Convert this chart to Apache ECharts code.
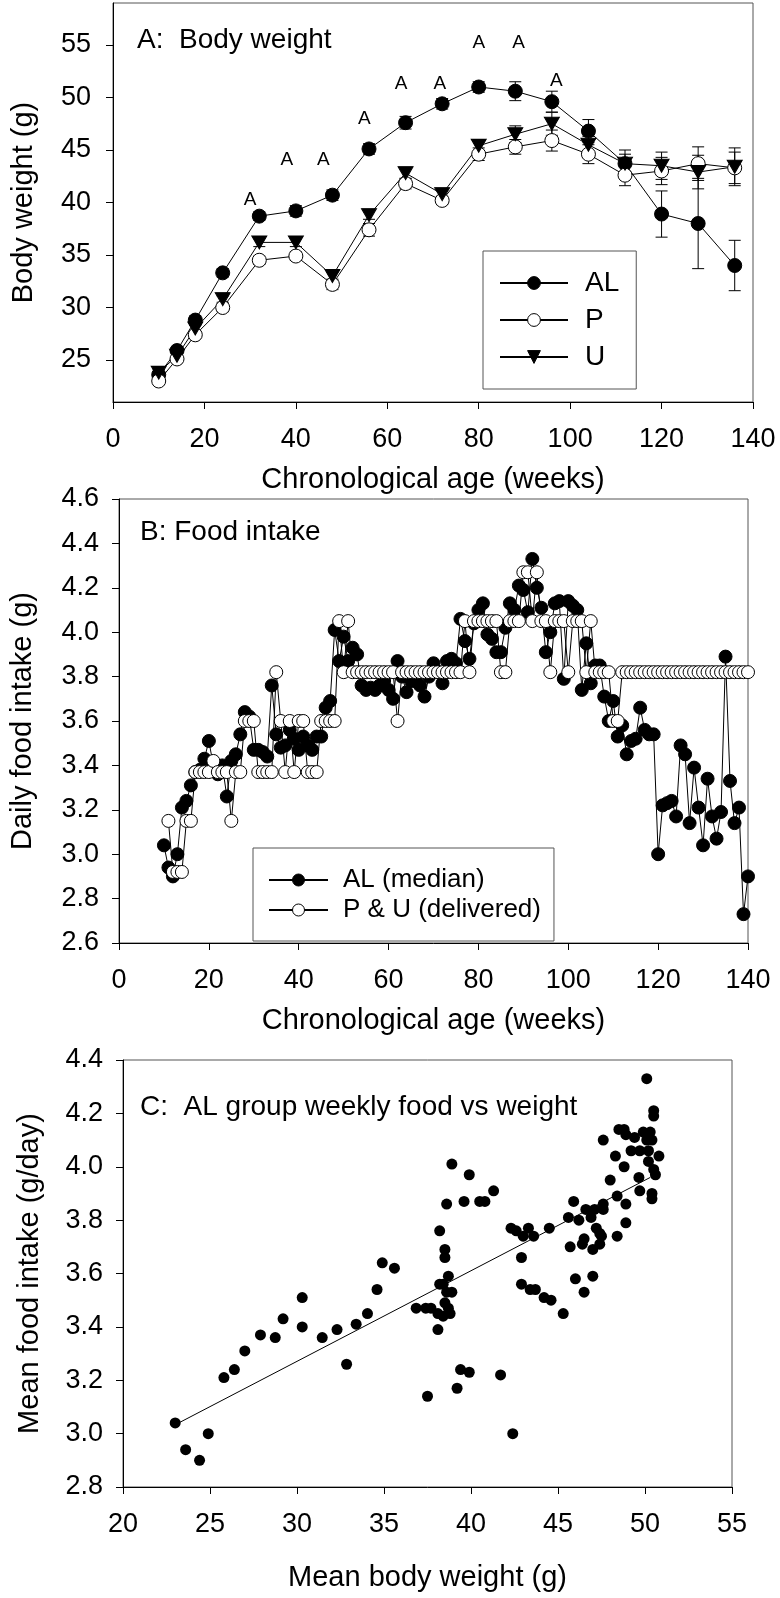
<!DOCTYPE html>
<html><head><meta charset="utf-8">
<script src="https://cdn.jsdelivr.net/npm/echarts@6/dist/echarts.min.js"></script>
<style>html,body{margin:0;padding:0;background:#fff}#c{width:780px;height:1598px}</style>
</head><body><div id="c"></div>
<script>
// ---------- Panel A: body weight ----------
const weeksA = [10,14,18,24,32,40,48,56,64,72,80,88,96,104,112,120,128,136];
const weightAL = [23.6,25.9,28.8,33.3,38.7,39.2,40.7,45.1,47.6,49.4,51.0,50.6,49.6,46.8,43.7,38.9,38.0,34.0];
const errAL    = [0.3,0.3,0.4,0.4,0.4,0.5,0.5,0.5,0.6,0.5,0.5,0.9,1.0,1.1,1.3,2.2,4.3,2.4];
const weightP  = [23.0,25.1,27.4,30.0,34.5,34.9,32.2,37.4,41.8,40.2,44.6,45.3,45.9,44.6,42.6,43.0,43.7,43.3];
const errP     = [0.3,0.3,0.3,0.4,0.4,0.4,0.5,0.6,0.5,0.4,0.6,0.7,1.0,0.9,1.0,1.3,1.6,1.5];
const weightU  = [23.8,25.4,28.0,30.8,36.2,36.2,33.0,38.8,42.8,40.8,45.4,46.5,47.5,45.5,43.7,43.5,42.9,43.4];
const errU     = [0.3,0.3,0.3,0.3,0.4,0.4,0.4,0.4,0.5,0.4,0.6,0.8,1.1,0.8,0.9,1.3,1.6,1.8];
const sigWeek   = [30,38,46,55,63,71.5,80,88.7,97];
const sigWeight = [40.3,44.1,44.1,48.0,51.3,51.3,55.2,55.2,51.6];
const ticksA_y = [25,30,35,40,45,50,55];

// ---------- Panel B: food intake ----------
const weeksB = [10,11,12,13,14,15,16,17,18,19,20,21,22,23,24,25,26,27,28,29,30,31,32,33,34,35,36,37,38,39,40,41,42,43,44,45,46,47,48,49,50,51,52,53,54,55,56,57,58,59,60,61,62,63,64,65,66,67,68,69,70,71,72,73,74,75,76,77,78,79,80,81,82,83,84,85,86,87,88,89,90,91,92,93,94,95,96,97,98,99,100,101,102,103,104,105,106,107,108,109,110,111,112,113,114,115,116,117,118,119,120,121,122,123,124,125,126,127,128,129,130,131,132,133,134,135,136,137,138,139,140];
const intakeAL = [
 3.04,2.94,2.90,3.00,3.21,3.24,3.31,3.37,3.38,3.43,
 3.51,3.40,3.36,3.40,3.26,3.42,3.45,3.54,3.64,3.62,
 3.47,3.47,3.46,3.44,3.76,3.54,3.48,3.49,3.56,3.52,
 3.47,3.53,3.49,3.47,3.53,3.53,3.66,3.69,4.01,3.87,
 3.98,3.87,3.93,3.90,3.76,3.74,3.75,3.74,3.76,3.78,
 3.74,3.70,3.87,3.80,3.73,3.78,3.78,3.76,3.71,3.80,
 3.86,3.82,3.77,3.87,3.88,3.86,4.06,3.96,3.88,4.04,
 4.10,4.13,3.99,3.97,3.91,3.91,4.02,4.13,4.10,4.21,
 4.19,4.09,4.33,4.20,4.11,3.91,4.00,4.13,4.14,3.79,
 4.14,4.12,4.10,3.74,3.95,3.77,3.85,3.85,3.71,3.60,
 3.69,3.53,3.58,3.45,3.51,3.52,3.66,3.56,3.54,3.54,
 3.00,3.22,3.23,3.24,3.17,3.49,3.45,3.14,3.39,3.21,
 3.04,3.34,3.17,3.07,3.19,3.89,3.33,3.14,3.21,2.73,2.90];
const intakePU = [
 null,3.15,2.92,2.92,2.92,3.15,3.15,3.37,3.37,3.37,
 3.37,3.42,3.37,3.37,3.37,3.15,3.37,3.37,3.60,3.60,
 3.60,3.37,3.37,3.37,3.37,3.82,3.60,3.37,3.60,3.37,
 3.60,3.60,3.37,3.37,3.37,3.60,3.60,3.60,3.60,4.05,
 3.82,4.05,3.82,3.82,3.82,3.82,3.82,3.82,3.82,3.82,
 3.82,3.82,3.60,3.82,3.82,3.82,3.82,3.82,3.82,3.82,
 3.82,3.82,3.82,3.82,3.82,3.82,3.82,4.05,3.82,4.05,
 4.05,4.05,4.05,4.05,4.05,3.82,3.82,4.05,4.05,4.05,
 4.27,4.27,4.05,4.27,4.05,4.05,3.82,4.05,4.05,4.05,
 3.82,4.05,4.05,4.05,3.82,4.05,3.82,3.82,3.82,3.82,
 3.60,3.60,3.82,3.82,3.82,3.82,3.82,3.82,3.82,3.82,
 3.82,3.82,3.82,3.82,3.82,3.82,3.82,3.82,3.82,3.82,
 3.82,3.82,3.82,3.82,3.82,3.82,3.82,3.82,3.82,3.82,3.82];

// ---------- Panel C: food vs weight ----------
const meanWeight = [23.0,23.6,24.4,24.9,25.8,26.4,27.0,27.9,28.75,29.2,30.3,30.3,31.45,32.3,32.85,33.4,34.05,34.6,34.9,35.6,36.85,37.4,37.5,
 37.7,38.1,38.4,38.1,38.2,38.2,38.5,38.5,38.7,38.4,38.6,38.9,38.5,38.7,38.8,
 38.9,39.9,38.6,39.6,40.5,40.8,41.3,39.2,39.4,39.9,41.7,42.4,
 42.3,42.6,43.0,43.3,43.6,42.9,42.9,43.4,43.7,44.2,44.6,45.3,44.5,
 45.6,46.2,45.9,45.7,46.0,46.5,47.0,46.6,47.1,46.9,47.6,47.6,
 47.2,47.4,47.5,46.5,46.4,47.4,47.0,48.4,48.9,48.9,48.4,48.0,47.6,
 48.5,48.8,48.9,49.4,49.9,50.3,50.1,50.4,
 49.2,49.7,50.2,48.3,50.8,50.2,48.8,50.5,50.6,49.65,49.7,50.4,50.4,50.1,50.5,50.5];
const meanFood = [3.04,2.94,2.90,3.00,3.21,3.24,3.31,3.37,3.36,3.43,3.51,3.40,3.36,3.39,3.26,3.41,3.45,3.54,3.64,3.62,3.47,3.47,3.14,
 3.47,3.45,3.44,3.39,3.76,3.56,3.69,3.66,3.59,3.56,3.53,3.53,3.49,3.47,3.45,
 4.01,3.97,3.86,3.87,3.87,3.87,3.91,3.17,3.24,3.23,3.22,3.00,
 3.77,3.76,3.74,3.77,3.74,3.66,3.56,3.54,3.54,3.51,3.50,3.45,3.77,
 3.81,3.80,3.87,3.70,3.58,3.53,3.59,3.84,3.84,3.81,3.86,3.84,
 3.77,3.75,3.74,3.73,3.71,3.71,3.69,3.74,3.79,3.86,3.89,3.95,4.10,
 4.14,4.14,4.12,4.11,4.13,4.13,4.10,4.10,
 4.06,4.06,4.06,4.04,4.04,4.02,4.00,3.99,3.97,3.96,3.91,3.90,3.88,4.33,4.21,4.19];
const fitWeight = [23.2, 50.3];
const fitFood   = [3.04, 3.96];

// ---------- chart ----------
const FF = '"Liberation Sans", Arial, Helvetica, sans-serif';
const pairs = (xs, ys) => xs.map((x, i) => [x, ys[i]]);
const triples = (xs, ys, es) => xs.map((x, i) => [x, ys[i], es[i]]);

function errBars(params, api) {
  const x = api.value(0), y = api.value(1), e = api.value(2);
  const t = api.coord([x, y + e]), b = api.coord([x, y - e]);
  const hw = 6, st = {stroke: '#000', lineWidth: 1};
  return {type: 'group', children: [
    {type: 'line', shape: {x1: t[0], y1: t[1], x2: b[0], y2: b[1]}, style: st},
    {type: 'line', shape: {x1: t[0] - hw, y1: t[1], x2: t[0] + hw, y2: t[1]}, style: st},
    {type: 'line', shape: {x1: b[0] - hw, y1: b[1], x2: b[0] + hw, y2: b[1]}, style: st}
  ]};
}

function axis(o) {
  const base = {
    type: 'value',
    axisLine: {show: true, onZero: false, lineStyle: {color: '#000', width: 1}},
    axisTick: {show: true, inside: false, length: 7, lineStyle: {color: '#000', width: 1}},
    axisLabel: {color: '#000', fontSize: 27, fontFamily: FF},
    splitLine: {show: false},
    nameLocation: 'middle',
    nameTextStyle: {color: '#000', fontSize: 29, fontFamily: FF}
  };
  const r = Object.assign({}, base, o);
  r.axisLabel = Object.assign({}, base.axisLabel, o.axisLabel || {});
  r.axisTick = Object.assign({}, base.axisTick, o.axisTick || {});
  return r;
}

const gridStyle = {show: true, borderColor: '#555', borderWidth: 1, backgroundColor: 'transparent'};
const lineBase = {type: 'line', symbol: 'circle', symbolSize: 13, showSymbol: true,
  lineStyle: {color: '#000', width: 1}, emphasis: {disabled: true}, animation: false};
const filled = {color: '#000', borderColor: '#000', borderWidth: 1, opacity: 1};
const open = {color: '#fff', borderColor: '#000', borderWidth: 1, opacity: 1};

const chart = echarts.init(document.getElementById('c'), null, {renderer: 'canvas'});
chart.setOption({
  animation: false,
  backgroundColor: '#fff',
  textStyle: {fontFamily: FF},
  title: [
    {text: 'A:  Body weight', left: 137, top: 26, padding: 0, textStyle: {fontSize: 28, fontWeight: 'normal', color: '#000', fontFamily: FF}},
    {text: 'B: Food intake', left: 140, top: 518, padding: 0, textStyle: {fontSize: 28, fontWeight: 'normal', color: '#000', fontFamily: FF}},
    {text: 'C:  AL group weekly food vs weight', left: 140, top: 1093, padding: 0, textStyle: {fontSize: 28, fontWeight: 'normal', color: '#000', fontFamily: FF}}
  ],
  grid: [
    Object.assign({left: 113, top: 3, width: 640, height: 399}, gridStyle),
    Object.assign({left: 117, top: 499, width: 631, height: 444}, gridStyle),
    Object.assign({left: 123, top: 1060, width: 609, height: 427}, gridStyle)
  ],
  xAxis: [
    axis({gridIndex: 0, min: 0, max: 140, interval: 20, name: 'Chronological age (weeks)', nameGap: 63, axisLabel: {margin: 24}}),
    axis({gridIndex: 1, min: 0, max: 140, interval: 20, name: 'Chronological age (weeks)', nameGap: 63, axisLabel: {margin: 24}}),
    axis({gridIndex: 2, min: 20, max: 55, interval: 5, name: 'Mean body weight (g)', nameGap: 76, axisLabel: {margin: 24}})
  ],
  yAxis: [
    axis({gridIndex: 0, min: 21, max: 59, name: 'Body weight (g)', nameGap: 75,
      axisLabel: {margin: 22, customValues: ticksA_y}, axisTick: {customValues: ticksA_y}}),
    axis({gridIndex: 1, min: 2.6, max: 4.6, interval: 0.2, name: 'Daily food intake (g)', nameGap: 82,
      axisLabel: {margin: 20, formatter: v => v.toFixed(1)}}),
    axis({gridIndex: 2, min: 2.8, max: 4.4, interval: 0.2, name: 'Mean food intake (g/day)', nameGap: 79,
      axisLabel: {margin: 20, formatter: v => v.toFixed(1)}})
  ],
  legend: [
    {orient: 'vertical', left: 483, top: 251, padding: [17, 17, 17, 16], itemGap: 7,
     itemWidth: 68, itemHeight: 16, selectedMode: false, borderColor: '#555', borderWidth: 1,
     data: ['AL', 'P', 'U'], itemStyle: {borderWidth: 1},
     textStyle: {fontSize: 28, color: '#000', fontFamily: FF, lineHeight: 30, padding: [0, 0, 0, 12]}},
    {orient: 'vertical', left: 253, top: 848, padding: [19, 13, 18, 15], itemGap: 4,
     itemWidth: 59, itemHeight: 15, selectedMode: false, borderColor: '#555', borderWidth: 1,
     data: ['AL (median)', 'P & U (delivered)'], itemStyle: {borderWidth: 1},
     textStyle: {fontSize: 26, color: '#000', fontFamily: FF, lineHeight: 26, padding: [0, 0, 0, 10]}}
  ],
  series: [
    // Panel A error bars
    {type: 'custom', xAxisIndex: 0, yAxisIndex: 0, z: 1, renderItem: errBars, data: triples(weeksA, weightAL, errAL), encode: {x: 0, y: 1}, silent: true},
    {type: 'custom', xAxisIndex: 0, yAxisIndex: 0, z: 1, renderItem: errBars, data: triples(weeksA, weightP, errP), encode: {x: 0, y: 1}, silent: true},
    {type: 'custom', xAxisIndex: 0, yAxisIndex: 0, z: 1, renderItem: errBars, data: triples(weeksA, weightU, errU), encode: {x: 0, y: 1}, silent: true},
    // Panel A lines
    Object.assign({}, lineBase, {name: 'AL', xAxisIndex: 0, yAxisIndex: 0, symbolSize: 14, itemStyle: filled, data: pairs(weeksA, weightAL)}),
    Object.assign({}, lineBase, {name: 'P', xAxisIndex: 0, yAxisIndex: 0, symbolSize: 14, itemStyle: open, data: pairs(weeksA, weightP)}),
    Object.assign({}, lineBase, {name: 'U', xAxisIndex: 0, yAxisIndex: 0, symbol: 'triangle', symbolRotate: 180, symbolSize: [15, 13], itemStyle: filled, data: pairs(weeksA, weightU)}),
    // Significance letters
    {type: 'scatter', xAxisIndex: 0, yAxisIndex: 0, symbolSize: 0, silent: true, itemStyle: {opacity: 1},
     data: pairs(sigWeek, sigWeight),
     label: {show: true, position: 'inside', formatter: 'A', fontSize: 19, color: '#000', opacity: 1, fontFamily: FF}},
    // Panel B
    Object.assign({}, lineBase, {name: 'AL (median)', xAxisIndex: 1, yAxisIndex: 1, itemStyle: filled, data: pairs(weeksB, intakeAL)}),
    Object.assign({}, lineBase, {name: 'P & U (delivered)', xAxisIndex: 1, yAxisIndex: 1, itemStyle: open, connectNulls: false, data: pairs(weeksB, intakePU)}),
    // Panel C
    {type: 'scatter', xAxisIndex: 2, yAxisIndex: 2, symbolSize: 11, itemStyle: {color: '#000', opacity: 1}, data: pairs(meanWeight, meanFood), silent: true},
    {type: 'line', xAxisIndex: 2, yAxisIndex: 2, symbol: 'none', lineStyle: {color: '#000', width: 1}, data: pairs(fitWeight, fitFood), silent: true}
  ]
});
</script>
</body></html>
